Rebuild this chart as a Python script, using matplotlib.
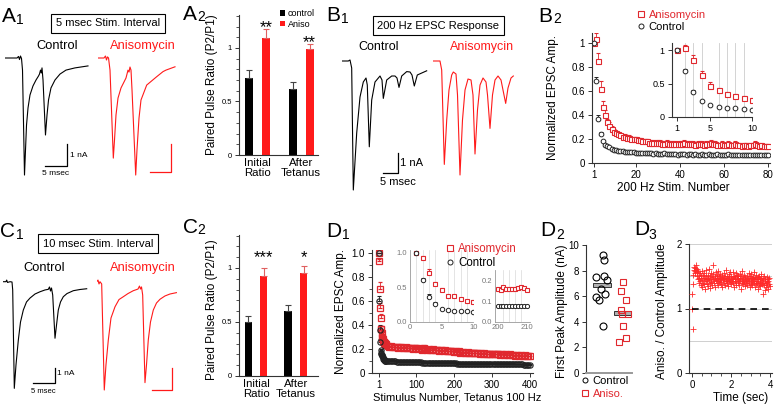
import numpy as np
import matplotlib
matplotlib.use("Agg")
import matplotlib.pyplot as plt
from matplotlib.patches import Patch
from matplotlib.lines import Line2D

plt.rcParams['font.family'] = ['Liberation Sans', 'DejaVu Sans']
plt.rcParams['axes.linewidth'] = 0.8

W, H = 774, 404
RED = '#ff1a1a'
MRED = '#e0282e'
DARK = '#333333'

# ---------------- data ----------------
# EPSC traces: time (msec) and current (nA)
a1_ctrl_t = [0, 2.73, 3.07, 3.30, 3.52, 3.75, 3.98, 4.43, 4.66, 4.89, 5.23, 5.68, 6.36, 7.05, 7.61, 7.84, 8.07, 8.25, 8.41, 8.64,
             9.20, 9.55, 9.89, 10.45, 11.36, 12.5, 13.86, 15.9, 18.86]
a1_ctrl_i = [0, 0, 0.07, -0.07, 0.09, -0.02, -0.55, -5.32, -4.18, -3.05, -2.27, -1.68, -1.27, -1.0, -0.82, -0.73, -0.55, -0.68, -0.45, -1.0,
             -3.5, -2.59, -1.91, -1.36, -1.0, -0.73, -0.55, -0.45, -0.36]
a1_aniso_t = [0, 1.36, 1.70, 1.93, 2.16, 2.39, 2.73, 3.48, 3.75, 4.09, 4.55, 5.23, 5.91, 6.36, 6.59, 6.82, 7.05, 7.27, 7.5, 7.73,
              8.57, 8.86, 9.32, 9.77, 11.07, 13.34, 14.77, 15.45, 17.5]
a1_aniso_i = [0, 0, 0.09, -0.09, 0.05, 0, -0.55, -4.55, -3.73, -2.59, -1.82, -1.36, -1.09, -0.91, -0.73, -0.55, -0.64, -0.41, -0.55, -1.45,
              -5.32, -4.18, -2.73, -1.91, -1.23, -0.85, -0.62, -0.55, -0.40]

b1_ctrl_t = [0, 2.2, 2.77, 3.33, 3.87, 5.0, 6.1, 7.2, 8.1, 8.53, 9.2, 10.0, 11.1, 12.77, 13.43, 13.87, 15.0, 16.67, 17.77, 18.43,
             19.1, 20.0, 21.67, 22.77, 23.43, 24.2, 25.2, 28.33]
b1_ctrl_i = [0, 0, 0.05, -0.35, -6.45, -3.6, -1.8, -1.05, -0.85, -1.2, -4.29, -1.95, -1.05, -0.75, -0.95, -1.87, -0.95, -0.75, -0.75, -0.85,
             -1.32, -0.75, -0.53, -0.55, -0.7, -1.25, -0.7, -0.49]
b1_aniso_t = [0, 2.23, 2.8, 3.67, 4.47, 5.23, 6.13, 6.67, 7.57, 8.07, 8.9, 9.73, 10.57, 11.57, 12.57, 13.23, 13.9, 14.73, 15.57, 16.57,
              17.57, 18.07, 18.9, 19.73, 20.57, 21.57, 22.57, 23.23, 24.13, 24.9, 25.9, 26.67]
b1_aniso_i = [0, 0, -0.45, -5.17, -2.95, -1.45, -0.7, -0.55, -0.65, -1.7, -5.7, -2.95, -1.45, -0.9, -0.95, -1.7, -4.65, -2.45, -1.2, -0.85,
              -1.05, -1.7, -3.37, -1.7, -0.95, -0.75, -0.95, -1.45, -2.12, -1.35, -0.85, -0.75]

c1_ctrl_t = [0, 0.69, 0.85, 1.04, 1.62, 2.08, 2.24, 2.61, 3.0, 3.54, 4.04, 4.69, 5.43, 6.24, 7.39, 8.55, 9.7, 10.46, 10.74, 10.97,
             11.2, 11.48, 12.01, 12.36, 12.77, 13.28, 13.93, 14.78, 16.24, 17.78, 19.33]
c1_ctrl_i = [0, 0, 0.11, -0.05, 0, -0.02, -0.55, -7.11, -5.55, -3.89, -2.69, -1.89, -1.35, -1.09, -0.82, -0.67, -0.55, -0.51, -0.35, -0.62,
             -0.42, -0.89, -3.77, -2.89, -1.89, -1.35, -1.0, -0.79, -0.6, -0.52, -0.47]
c1_aniso_t = [0, 0.3, 0.53, 0.76, 1.15, 1.75, 2.14, 2.68, 3.3, 4.23, 5.15, 6.15, 7.23, 8.45, 9.54, 9.88, 10.12, 10.35, 10.62, 11.15,
              11.5, 11.91, 12.42, 13.07, 13.81, 14.62, 15.77, 16.93, 18.41]
c1_aniso_i = [0, 0.11, -0.15, 0, -0.15, -7.22, -5.55, -3.89, -2.42, -1.67, -1.19, -1.0, -0.79, -0.6, -0.49, -0.29, -0.49, -0.35, -0.89, -6.73,
              -5.55, -3.89, -2.69, -1.89, -1.42, -1.17, -0.95, -0.82, -0.73]

# paired pulse ratio bars
ppr_groups = ['Initial\nRatio', 'After\nTetanus']
a2_ctrl, a2_ctrl_err = [0.72, 0.62], [0.07, 0.06]
a2_aniso, a2_aniso_err = [1.09, 0.99], [0.09, 0.05]
a2_stars = ['**', '**']
c2_ctrl, c2_ctrl_err = [0.50, 0.60], [0.06, 0.06]
c2_aniso, c2_aniso_err = [0.93, 0.95], [0.07, 0.07]
c2_stars = ['***', '*']

# B2: 200 Hz train, normalized amplitude
b2_stim = np.arange(1, 81)
b2_aniso = [1.00, 1.03, 0.85, 0.62, 0.47, 0.40, 0.34, 0.31, 0.28, 0.26,
            0.25, 0.24, 0.23, 0.22, 0.22, 0.21, 0.21, 0.20, 0.20, 0.20,
            0.19, 0.19, 0.18, 0.18, 0.18, 0.17, 0.17, 0.17, 0.17, 0.17,
            0.17, 0.16, 0.16, 0.17, 0.16, 0.16, 0.16, 0.16, 0.16, 0.16,
            0.16, 0.17, 0.16, 0.16, 0.16, 0.16, 0.15, 0.16, 0.16, 0.16,
            0.15, 0.16, 0.16, 0.17, 0.16, 0.16, 0.15, 0.15, 0.16, 0.15,
            0.15, 0.16, 0.15, 0.15, 0.16, 0.15, 0.15, 0.14, 0.15, 0.15,
            0.14, 0.15, 0.15, 0.16, 0.15, 0.14, 0.15, 0.14, 0.14, 0.14]
b2_ctrl = [1.00, 0.68, 0.37, 0.24, 0.18, 0.15, 0.14, 0.13, 0.12, 0.11,
           0.11, 0.10, 0.10, 0.10, 0.09, 0.09, 0.09, 0.09, 0.09, 0.08,
           0.08, 0.08, 0.08, 0.08, 0.08, 0.08, 0.08, 0.075, 0.08, 0.075,
           0.075, 0.075, 0.08, 0.075, 0.075, 0.075, 0.075, 0.075, 0.07, 0.075,
           0.075, 0.075, 0.07, 0.075, 0.075, 0.07, 0.075, 0.07, 0.07, 0.075,
           0.07, 0.07, 0.075, 0.07, 0.07, 0.07, 0.075, 0.07, 0.07, 0.07,
           0.07, 0.075, 0.07, 0.07, 0.07, 0.065, 0.07, 0.07, 0.065, 0.07,
           0.07, 0.065, 0.07, 0.065, 0.065, 0.07, 0.065, 0.065, 0.065, 0.065]
b2_aniso_err = np.r_[[0, 0.05, 0.07, 0.06, 0.05, 0.04, 0.03, 0.03, 0.03, 0.025], np.full(70, 0.02)]
b2_ctrl_err = np.r_[[0, 0.04, 0.03, 0.02, 0.015, 0.01, 0.01, 0.01, 0.01, 0.01], np.full(70, 0.008)]

# D1: 100 Hz tetanus, 400 stimuli
d1_stim = np.r_[np.arange(1, 21), np.arange(24, 401, 4)]
d1_aniso = [1.00, 0.93, 0.70, 0.54, 0.46, 0.37, 0.37, 0.33, 0.30, 0.29,
            0.28, 0.27, 0.26, 0.26, 0.25, 0.25, 0.24, 0.24, 0.24, 0.23,
            0.225, 0.22, 0.225, 0.22, 0.215, 0.22, 0.215, 0.21, 0.22, 0.215, 0.21, 0.21, 0.215, 0.205, 0.21, 0.21, 0.205, 0.20, 0.21, 0.205,
            0.20, 0.205, 0.20, 0.195, 0.21, 0.20, 0.195, 0.20, 0.19, 0.195, 0.20, 0.19, 0.19, 0.195, 0.185, 0.19, 0.19, 0.185, 0.19, 0.18,
            0.185, 0.18, 0.185, 0.18, 0.175, 0.18, 0.175, 0.18, 0.17, 0.175, 0.175, 0.17, 0.17, 0.175, 0.165, 0.17, 0.17, 0.165, 0.17, 0.165,
            0.165, 0.16, 0.165, 0.16, 0.165, 0.16, 0.155, 0.16, 0.16, 0.155, 0.16, 0.155, 0.155, 0.16, 0.15, 0.155, 0.155, 0.15, 0.155, 0.15,
            0.15, 0.155, 0.15, 0.15, 0.145, 0.15, 0.15, 0.145, 0.15, 0.145, 0.145, 0.15, 0.145, 0.14, 0.145]
d1_ctrl = [1.00, 0.60, 0.36, 0.26, 0.19, 0.17, 0.16, 0.15, 0.15, 0.14,
           0.13, 0.12, 0.12, 0.11, 0.11, 0.105, 0.10, 0.10, 0.10, 0.10,
           0.10, 0.10, 0.098, 0.097, 0.097, 0.096, 0.095, 0.095, 0.094, 0.094, 0.093, 0.093, 0.092, 0.092, 0.091, 0.091, 0.09, 0.09, 0.09, 0.089,
           0.089, 0.088, 0.088, 0.087, 0.087, 0.087, 0.086, 0.086, 0.085, 0.085, 0.085, 0.084, 0.084, 0.083, 0.083, 0.083, 0.082, 0.082, 0.082, 0.081,
           0.081, 0.081, 0.08, 0.08, 0.08, 0.08, 0.079, 0.079, 0.079, 0.078, 0.078, 0.078, 0.078, 0.077, 0.077, 0.077, 0.077, 0.076, 0.076, 0.076,
           0.076, 0.076, 0.075, 0.075, 0.075, 0.075, 0.075, 0.074, 0.074, 0.074, 0.074, 0.074, 0.073, 0.073, 0.073, 0.073, 0.073, 0.073, 0.072, 0.072,
           0.072, 0.072, 0.072, 0.072, 0.071, 0.071, 0.071, 0.071, 0.071, 0.071, 0.07, 0.07, 0.07, 0.07, 0.07]
d1_aniso_err = np.r_[[0, 0.02, 0.06, 0.04, 0.03, 0.02, 0.02, 0.02, 0.02, 0.02], np.full(len(d1_stim) - 10, 0.02)]
d1_ctrl_err = np.r_[[0, 0.04, 0.04, 0.02, 0.01, 0.01, 0.01, 0.01, 0.01, 0.01], np.full(len(d1_stim) - 10, 0.008)]
d1_late_stim = np.arange(200, 211)
d1_late_aniso = [0.16, 0.155, 0.17, 0.16, 0.16, 0.16, 0.16, 0.165, 0.17, 0.165, 0.155]
d1_late_ctrl = [0.075, 0.075, 0.078, 0.076, 0.078, 0.077, 0.079, 0.078, 0.075, 0.076, 0.077]

# D2: first peak amplitude (nA), with horizontal jitter of the dots
d2_ctrl = [9.2, 8.8, 7.6, 7.5, 7.3, 6.6, 6.2, 5.9, 5.7, 3.7]
d2_ctrl_jit = [0.05, 0.12, 0.1, -0.3, 0.25, -0.05, 0.15, -0.3, -0.15, 0.05]
d2_aniso = [7.1, 6.4, 5.7, 4.9, 4.6, 4.6, 3.7, 2.7, 2.4]
d2_aniso_jit = [0.0, -0.1, 0.15, -0.1, 0.25, -0.05, 0.0, 0.15, -0.2]

# D3: aniso / control ratio during the tetanus, every 20 ms
d3_ratio = [1.22, 0.99, 0.68, 1.38, 1.52, 1.60, 1.65, 1.58, 1.63, 1.55, 1.67, 1.60, 1.50, 1.62, 1.56, 1.45, 1.58, 1.52, 1.40, 1.48,
            1.55, 1.42, 1.36, 1.50, 1.47, 1.33, 1.58, 1.44, 1.40, 1.52, 1.38, 1.48, 1.55, 1.30, 1.45, 1.50, 1.42, 1.60, 1.38, 1.46,
            1.52, 1.35, 1.48, 1.44, 1.62, 1.40, 1.50, 1.32, 1.46, 1.55, 1.41, 1.49, 1.37, 1.53, 1.45, 1.68, 1.43, 1.39, 1.51, 1.47,
            1.34, 1.56, 1.44, 1.48, 1.40, 1.52, 1.46, 1.36, 1.58, 1.43, 1.50, 1.41, 1.47, 1.54, 1.38, 1.45, 1.49, 1.33, 1.52, 1.44,
            1.46, 1.40, 1.55, 1.48, 1.37, 1.51, 1.43, 1.60, 1.45, 1.39, 1.50, 1.42, 1.47, 1.35, 1.53, 1.44, 1.49, 1.41, 1.56, 1.46,
            1.38, 1.50, 1.45, 1.42, 1.57, 1.40, 1.48, 1.34, 1.51, 1.46, 1.43, 1.49, 1.37, 1.55, 1.41, 1.47, 1.52, 1.39, 1.45, 1.50,
            1.42, 1.36, 1.53, 1.44, 1.48, 1.31, 1.50, 1.46, 1.40, 1.58, 1.43, 1.47, 1.38, 1.52, 1.41, 1.45, 1.35, 1.49, 1.44, 1.39,
            1.51, 1.43, 1.37, 1.48, 1.42, 1.55, 1.40, 1.46, 1.33, 1.50, 1.44, 1.38, 1.53, 1.41, 1.47, 1.36, 1.49, 1.43, 1.57, 1.40,
            1.45, 1.34, 1.48, 1.42, 1.38, 1.52, 1.40, 1.46, 1.30, 1.49, 1.43, 1.37, 1.51, 1.41, 1.45, 1.35, 1.47, 1.40, 1.54, 1.38,
            1.44, 1.22, 1.47, 1.39, 1.50, 1.36, 1.42, 1.28, 1.46, 1.40, 1.34, 1.49, 1.41, 1.37, 1.45, 1.31, 1.43, 1.38, 1.47, 1.35]
d3_time = np.arange(len(d3_ratio)) * 0.02

# ---------------- figure ----------------
fig = plt.figure(figsize=(W / 100, H / 100), dpi=100)


def box(x0, y0, x1, y1):
    # pixel box (top-left origin) -> figure fraction rect
    return [x0 / W, 1 - y1 / H, (x1 - x0) / W, (y1 - y0) / H]


def ftext(x, y, s, **kw):
    return fig.text(x / W, 1 - y / H, s, **kw)


def panel_label(x, y, letter, sx, sy, sub):
    ftext(x, y, letter, fontsize=15, va='baseline')
    ftext(sx, sy, sub, fontsize=10, va='baseline')


def trace_axes(x0, y0, ms_px, na_px, tmax, imin, imax):
    ax = fig.add_axes(box(x0, y0 - imax * na_px, x0 + tmax * ms_px, y0 - imin * na_px))
    ax.set_xlim(0, tmax)
    ax.set_ylim(imin, imax)
    ax.axis('off')
    return ax


def scale_bar(ax, t0, i0, dt, di, color):
    ax.plot([t0, t0 + dt, t0 + dt], [i0, i0, i0 + di], color=color, lw=0.9, clip_on=False)


def boxed_title(x, y, s):
    ftext(x, y, s, fontsize=8, ha='center', va='center',
          bbox=dict(boxstyle='square,pad=0.4', fc='white', ec='black', lw=0.8))


def style_axes(ax, fs=7):
    for s in ['top', 'right']:
        ax.spines[s].set_visible(False)
    for s in ['left', 'bottom']:
        ax.spines[s].set_color(DARK)
    ax.tick_params(labelsize=fs, length=3, width=0.7, color=DARK, pad=2)


# ---- A1 ----
panel_label(2, 22, 'A', 16, 24, '1')
boxed_title(108, 23.3, '5 msec Stim. Interval')
ftext(57.5, 46, 'Control', fontsize=9.3, ha='center', va='center')
ftext(143, 46, 'Anisomycin', fontsize=9.3, ha='center', va='center', color=RED)
ax = trace_axes(5, 58, 4.4, 22, 20, -5.6, 0.4)
ax.plot(a1_ctrl_t, a1_ctrl_i, color='black', lw=0.8)
scale_bar(ax, 9.09, -4.91, 5, 1, 'black')
ax.text(14.8, -4.41, '1 nA', fontsize=6, va='center')
ax.text(11.6, -5.23, '5 msec', fontsize=6, ha='center', va='center')
ax = trace_axes(98, 58, 4.4, 22, 20, -5.6, 0.4)
ax.plot(a1_aniso_t, a1_aniso_i, color=RED, lw=0.8)
scale_bar(ax, 11.8, -5.18, 4.7, 1.27, RED)

# ---- B1 ----
panel_label(326, 21, 'B', 341, 23, '1')
boxed_title(438.3, 25.8, '200 Hz EPSC Response')
ftext(378.3, 46.7, 'Control', fontsize=9, ha='center', va='center')
ftext(481.7, 46.7, 'Anisomycin', fontsize=9, ha='center', va='center', color=RED)
ax = trace_axes(341.7, 61, 3.0, 20, 30, -6.7, 0.3)
ax.plot(b1_ctrl_t, b1_ctrl_i, color='black', lw=0.8)
scale_bar(ax, 13.77, -5.6, 5, 1, 'black')
ax.text(19.4, -5.1, '1 nA', fontsize=8, va='center')
ax.text(18.77, -6.03, '5 msec', fontsize=8, ha='center', va='center')
ax = trace_axes(433.3, 61, 3.0, 20, 30, -6.7, 0.3)
ax.plot(b1_aniso_t, b1_aniso_i, color=RED, lw=0.8)

# ---- C1 ----
panel_label(0, 237, 'C', 16, 239, '1')
boxed_title(98, 243.8, '10 msec Stim. Interval')
ftext(44, 268.3, 'Control', fontsize=9.3, ha='center', va='center')
ftext(143, 268.3, 'Anisomycin', fontsize=9.3, ha='center', va='center', color=RED)
ax = trace_axes(3, 281.7, 4.33, 15, 20, -7.6, 0.4)
ax.plot(c1_ctrl_t, c1_ctrl_i, color='black', lw=0.8)
scale_bar(ax, 7.0, -6.77, 5, 1, 'black')
ax.text(12.5, -6.09, '1 nA', fontsize=6, va='center')
ax.text(9.24, -7.29, '5 msec', fontsize=5.5, ha='center', va='center')
ax = trace_axes(96.7, 281.7, 4.33, 15, 20, -7.6, 0.4)
ax.plot(c1_aniso_t, c1_aniso_i, color=RED, lw=0.8)
scale_bar(ax, 12.7, -7.22, 4.62, 1.45, RED)


# ---- A2 / C2 bars ----
def bar_panel(rect, xlim, ctrl, ctrl_err, aniso, aniso_err, stars, star_y):
    ax = fig.add_axes(box(*rect))
    x = np.arange(len(ppr_groups))
    off, w = 0.195, 0.184
    ax.bar(x - off, ctrl, w, color='black')
    ax.bar(x + off, aniso, w, color=RED)
    ax.errorbar(x - off, ctrl, yerr=[np.zeros(len(x)), ctrl_err], fmt='none', ecolor='#444444',
                elinewidth=0.8, capsize=2, capthick=0.8)
    ax.errorbar(x + off, aniso, yerr=[np.zeros(len(x)), aniso_err], fmt='none', ecolor='#e06060',
                elinewidth=0.8, capsize=2, capthick=0.8)
    for xi, s, sy in zip(x + off, stars, star_y):
        ax.text(xi, sy, s, ha='center', va='baseline', fontsize=12)
    ax.set_xlim(*xlim)
    ax.set_ylim(0, 1.31)
    style_axes(ax, fs=5.5)
    ax.set_yticks([0, 0.5, 1])
    ax.set_yticklabels(['0', '0.5', '1'])
    ax.set_yticks(np.arange(0, 1.31, 0.1), minor=True)
    ax.tick_params(axis='y', which='minor', length=2, width=0.6, color=DARK)
    ax.set_xticks(x)
    ax.set_xticklabels(ppr_groups, fontsize=8.2, linespacing=1.0)
    ax.tick_params(axis='x', length=0, pad=2.5)
    return ax


panel_label(183, 20, 'A', 197, 21, '2')
ax = bar_panel((239, 14.8, 318, 155), (-0.425, 1.39), a2_ctrl, a2_ctrl_err, a2_aniso, a2_aniso_err,
               a2_stars, [1.15, 1.01])
ax.legend(handles=[Patch(facecolor='black'), Patch(facecolor=RED)], labels=['control', 'Aniso'],
          loc='upper left', bbox_to_anchor=(280 / W, 1 - 9 / H), bbox_transform=fig.transFigure,
          frameon=False, fontsize=6.5, handlelength=0.6, handleheight=0.6, handletextpad=0.3,
          labelspacing=0.2, borderpad=0, borderaxespad=0)
ftext(212, 85, 'Paired Pulse Ratio (P2/P1)', fontsize=8.5, rotation=90, ha='center', va='center')

panel_label(183, 233, 'C', 197, 234, '2')
bar_panel((239, 234.5, 318, 376), (-0.43, 1.56), c2_ctrl, c2_ctrl_err, c2_aniso, c2_aniso_err,
          c2_stars, [1.055, 1.055])
ftext(212, 310, 'Paired Pulse Ratio (P2/P1)', fontsize=8.5, rotation=90, ha='center', va='center')

# ---- B2 ----
panel_label(538, 21.7, 'B', 553, 23, '2')
sq = dict(fmt='s', mfc='white', mec=MRED, ms=3.6, mew=0.8, ecolor=MRED, elinewidth=0.6, capsize=1.2)
ci = dict(fmt='o', mfc='white', mec='#222222', ms=3.4, mew=0.7, ecolor='#222222', elinewidth=0.6, capsize=1.2)
ax = fig.add_axes(box(591.8, 33.3, 770.2, 163))
ax.errorbar(b2_stim, b2_aniso, yerr=[np.zeros(len(b2_stim)), b2_aniso_err], **sq)
ax.errorbar(b2_stim, b2_ctrl, yerr=[np.zeros(len(b2_stim)), b2_ctrl_err], **ci)
ax.set_xlim(0, 81)
ax.set_ylim(0, 1.08)
style_axes(ax)
ax.set_xticks([1, 20, 40, 60, 80])
ax.set_yticks([0, 0.2, 0.4, 0.6, 0.8, 1])
ax.set_yticklabels(['0', '0.2', '0.4', '0.6', '0.8', '1'])
ftext(553, 97.5, 'Normalized EPSC Amp.', fontsize=8.5, rotation=90, ha='center', va='center')
ftext(673, 188, '200 Hz Stim. Number', fontsize=8.5, ha='center', va='center')

ax = fig.add_axes(box(671.7, 43.3, 752, 117))
ax.errorbar(b2_stim[:10], b2_aniso[:10], yerr=[np.zeros(10), b2_aniso_err[:10]], **sq)
ax.errorbar(b2_stim[:10], b2_ctrl[:10], yerr=[np.zeros(10), b2_ctrl_err[:10]], **ci)
ax.set_xlim(0.4, 10)
ax.set_ylim(0, 1.1)
style_axes(ax, fs=6.5)
ax.set_xticks([1, 5, 10])
ax.set_xticks(np.arange(1, 11), minor=True)
ax.set_yticks([0, 0.5, 1])
ax.set_yticklabels(['0', '0.5', '1'])
ax.tick_params(which='minor', length=0)
ax.grid(True, which='minor', axis='x', color='#cccccc', lw=0.6)
ax.set_axisbelow(True)
fig.legend(handles=[Line2D([], [], marker='s', ls='none', mfc='white', mec=MRED, ms=4, mew=0.8),
                    Line2D([], [], marker='o', ls='none', mfc='white', mec='#222222', ms=3.6, mew=0.7)],
           labels=['Anisomycin', 'Control'], labelcolor=[MRED, 'black'], loc='upper left',
           bbox_to_anchor=(638 / W, 1 - 10 / H), frameon=False, fontsize=8, handlelength=0.6,
           handletextpad=0.35, labelspacing=0.2, borderpad=0, borderaxespad=0)

# ---- D1 ----
panel_label(326, 237, 'D', 341.7, 239, '1')
sq1 = dict(sq, mfc='none', ms=4.0, mew=0.9)
ci1 = dict(ci, mfc='none', ms=3.8, mew=0.8)
ax = fig.add_axes(box(372, 250, 533, 373))
ax.errorbar(d1_stim, d1_aniso, yerr=[np.zeros(len(d1_stim)), d1_aniso_err], **sq1)
ax.errorbar(d1_stim, d1_ctrl, yerr=[np.zeros(len(d1_stim)), d1_ctrl_err], **ci1)
ax.set_xlim(-17.5, 408.5)
ax.set_ylim(0, 1.025)
style_axes(ax)
ax.set_xticks([1, 100, 200, 300, 400])
ax.set_yticks([0, 0.2, 0.4, 0.6, 0.8, 1.0])
ax.set_yticklabels(['0', '0.2', '0.4', '0.6', '0.8', '1.0'])
ax.set_yticks(np.arange(0, 1.01, 0.1), minor=True)
ax.tick_params(which='minor', length=2, width=0.6, color=DARK)
ftext(341, 312, 'Normalized EPSC Amp.', fontsize=8.5, rotation=90, ha='center', va='center')
ftext(457, 398, 'Stimulus Number, Tetanus 100 Hz', fontsize=8, ha='center', va='center')


def gray_inset(rect, xlim, ylim, xticks, yticks, ylabels):
    ax = fig.add_axes(box(*rect))
    ax.set_xlim(*xlim)
    ax.set_ylim(*ylim)
    for s in ['top', 'right']:
        ax.spines[s].set_visible(False)
    for s in ['left', 'bottom']:
        ax.spines[s].set_color('#999999')
        ax.spines[s].set_linewidth(0.6)
    ax.tick_params(labelsize=5.5, length=0, pad=2, labelcolor='#777777')
    ax.set_xticks(xticks)
    ax.set_yticks(yticks)
    ax.set_yticklabels(ylabels)
    ax.grid(True, which='minor', axis='x', color='#d9d9d9', lw=0.5)
    ax.set_axisbelow(True)
    return ax


ax = gray_inset((410, 250, 473.3, 321.7), (0, 10), (0, 1.04), [0, 5, 10], [0, 0.5, 1.0], ['0.0', '0.5', '1.0'])
ax.set_xticks(np.arange(1, 11), minor=True)
ax.tick_params(which='minor', length=0)
ax.errorbar(d1_stim[:10], d1_aniso[:10], yerr=[np.zeros(10), d1_aniso_err[:10]], **dict(sq, ms=3.4))
ax.errorbar(d1_stim[:10], d1_ctrl[:10], yerr=[np.zeros(10), d1_ctrl_err[:10]], **dict(ci, ms=3.2))

ax = gray_inset((495, 270, 530, 321.7), (199.07, 211.14), (0, 0.254), [200, 210], [0, 0.1, 0.2], ['0.0', '0.1', '0.2'])
ax.set_xticks(np.arange(200, 211, 2), minor=True)
ax.tick_params(which='minor', length=0)
ax.plot(d1_late_stim, d1_late_aniso, 's', mfc='white', mec=MRED, ms=3.2, mew=0.8)
ax.plot(d1_late_stim, d1_late_ctrl, 'o', mfc='white', mec='#222222', ms=3.0, mew=0.7)

fig.legend(handles=[Line2D([], [], marker='s', ls='none', mfc='white', mec=MRED, ms=4, mew=0.8),
                    Line2D([], [], marker='o', ls='none', mfc='white', mec='#222222', ms=3.6, mew=0.7)],
           labels=['Anisomycin', 'Control'], labelcolor=[MRED, 'black'], loc='upper left',
           bbox_to_anchor=(447 / W, 1 - 243 / H), frameon=False, fontsize=8.3, handlelength=0.6,
           handletextpad=0.35, labelspacing=0.15, borderpad=0, borderaxespad=0)

# ---- D2 ----
panel_label(540, 236, 'D', 556, 239, '2')
ax = fig.add_axes(box(586, 245, 632, 373))
ax.bar([0, 1], [0.3, 0.3], bottom=[np.mean(d2_ctrl) - 0.15, np.mean(d2_aniso) - 0.15], width=0.9,
       color='#b0b0b0', edgecolor='#333333', lw=0.7, zorder=1)
ax.plot(0 + np.array(d2_ctrl_jit), d2_ctrl, 'o', mfc='none', mec='black', ms=5, mew=0.8, zorder=2)
ax.plot(1 + np.array(d2_aniso_jit), d2_aniso, 's', mfc='none', mec=MRED, ms=5, mew=0.8, zorder=2)
ax.set_xlim(-0.76, 1.43)
ax.set_ylim(0, 10)
style_axes(ax)
ax.spines['bottom'].set_color('#999999')
ax.spines['bottom'].set_linewidth(1.4)
ax.set_xticks([])
ax.set_yticks([0, 2, 4, 6, 8, 10])
ftext(561.5, 311, 'First Peak Amplitude (nA)', fontsize=8.5, rotation=90, ha='center', va='center')
fig.legend(handles=[Line2D([], [], marker='o', ls='none', mfc='white', mec='black', ms=3.6, mew=0.7),
                    Line2D([], [], marker='s', ls='none', mfc='white', mec=MRED, ms=4, mew=0.8)],
           labels=['Control', 'Aniso.'], labelcolor=['black', MRED], loc='upper left',
           bbox_to_anchor=(582 / W, 1 - 376 / H), frameon=False, fontsize=8, handlelength=0.6,
           handletextpad=0.35, labelspacing=0.3, borderpad=0, borderaxespad=0)

# ---- D3 ----
panel_label(634, 235, 'D', 648, 239, '3')
ax = fig.add_axes(box(689, 244, 772, 373))
ax.plot(d3_time, d3_ratio, '+', color='#ff2a2a', ms=4.8, mew=0.6, zorder=3)
ax.plot([0, 4], [1, 1], color='black', lw=1.2, dashes=(4, 3), zorder=4)
ax.set_xlim(-0.15, 4.1)
ax.set_ylim(0, 2)
style_axes(ax)
ax.set_xticks([0, 2, 4])
ax.set_xticks(np.arange(0, 4.01, 0.5), minor=True)
ax.set_yticks([0, 1, 2])
ax.set_yticks([0.5, 1.5], minor=True)
ax.tick_params(which='minor', length=2, width=0.6, color=DARK)
ax.tick_params(axis='y', which='minor', length=0)
ax.grid(True, axis='y', which='both', color='#c8c8c8', lw=0.6)
ax.set_axisbelow(True)
ftext(662, 311, 'Aniso. / Control Amplitude', fontsize=8.5, rotation=90, ha='center', va='center')
ftext(741, 398, 'Time (sec)', fontsize=8.5, ha='center', va='center')

fig.savefig('out.png', dpi=100)
